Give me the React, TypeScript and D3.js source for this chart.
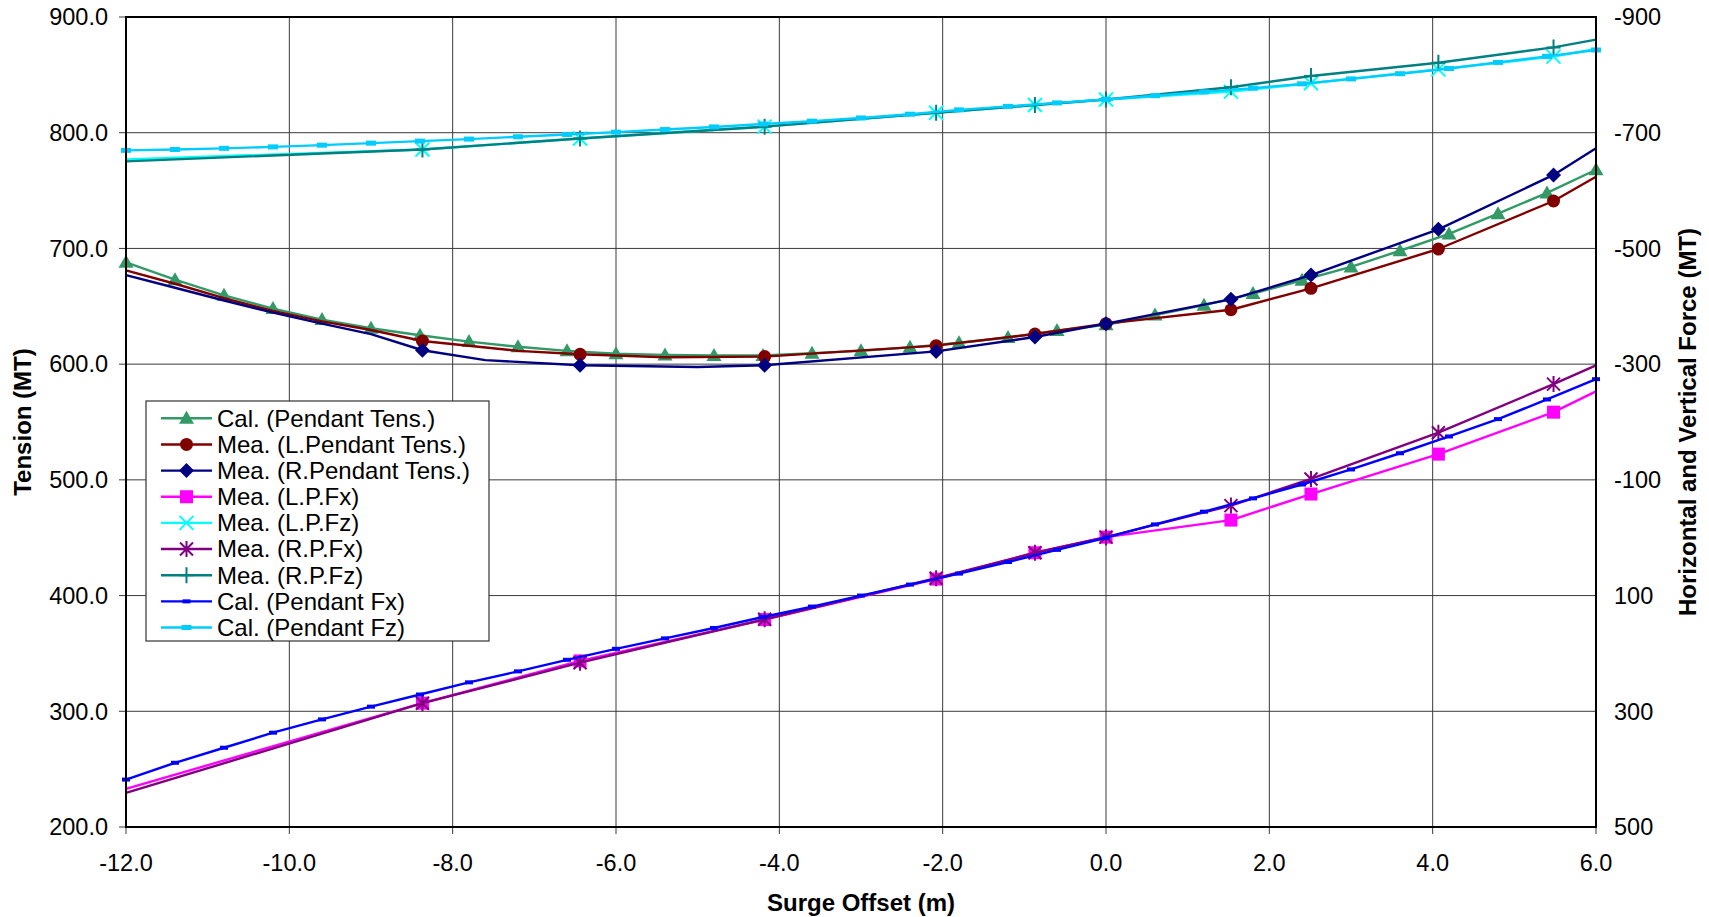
import React from 'react';
import * as d3 from 'd3';

const W = 1709;
const H = 917;
const m = { left: 126, right: 1596, top: 17, bottom: 827 };

const xTicks = [-12, -10, -8, -6, -4, -2, 0, 2, 4, 6];
const yTicks = [200, 300, 400, 500, 600, 700, 800, 900];
const y2Ticks = [-900, -700, -500, -300, -100, 100, 300, 500];

// calculated curves, every 0.6 m
const calX = [-12, -11.4, -10.8, -10.2, -9.6, -9, -8.4, -7.8, -7.2, -6.6, -6, -5.4, -4.8, -4.2, -3.6, -3,
  -2.4, -1.8, -1.2, -0.6, 0, 0.6, 1.2, 1.8, 2.4, 3, 3.6, 4.2, 4.8, 5.4, 6];
const calTens = [688, 673, 659.5, 648, 638.5, 631, 625, 619.5, 615, 611.5, 609, 608, 607.5, 607.5, 609.5, 611.5,
  614.5, 618.5, 623, 629, 634, 642.5, 651, 661, 672.5, 684, 698, 712.5, 730, 748, 768];
const calFx = [418, 389, 363, 337, 314, 292, 271, 250, 231, 211, 192, 174, 156, 137, 119, 100,
  81, 62, 42, 21, 0, -23, -45, -68, -92, -118, -146, -175, -205, -239, -274];
const calFz = [-669.5, -671, -673, -675.5, -678.5, -682, -685.5, -689, -693, -697, -701, -705.5, -710, -715, -720, -725.5,
  -732, -739.5, -745.5, -751.5, -757.5, -764, -770.5, -777, -784.5, -793, -802, -811, -821.5, -832, -843];

// measured points (markers)
const meaX = [-8.37, -6.44, -4.18, -2.08, -0.87, 0, 1.53, 2.51, 4.07, 5.48];
const lTensMea = [620, 608.5, 606.5, 616, 626, 635, 647, 665.5, 699.5, 741];
const rTensMea = [612, 599, 599, 611, 623.5, 635, 656, 677, 716.5, 763.5];
const lFxMea = [286, 213, 141.5, 71.5, 26, -1, -30.5, -75.5, -144.5, -217];
const lFzMea = [-671, -690, -710.5, -734.5, -748, -757.5, -771, -785.5, -809.5, -831.5];
const rFxMea = [286, 216, 141, 70, 26, -1, -55.5, -101.5, -181.5, -265.5];
const rFzMea = [-671, -690, -710.5, -734.5, -748, -757.5, -778.5, -798, -821, -847.5];

// measured traces (line vertices)
const lTensLineX = [-12, -11.4, -10.8, -10.2, -9.6, -9, -8.37, -7.2, -6.44, -5.4, -4.18, -2.08, -0.87, 0, 1.53, 2.51, 4.07, 5.48, 6];
const lTensLineY = [681, 669.5, 657, 646, 637, 629.5, 620, 611.5, 608.5, 606, 606.5, 616, 626, 635, 647, 665.5, 699.5, 741, 762];
const rTensLineX = [-12, -11.4, -10.8, -10.2, -9.6, -9, -8.37, -7.6, -6.44, -5, -4.18, -2.08, -0.87, 0, 1.53, 2.51, 4.07, 5.48, 6];
const rTensLineY = [677, 666, 655, 644.5, 635, 626, 612, 603.5, 599, 597.5, 599, 611, 623.5, 635, 656, 677, 716.5, 763.5, 786.5];
const fLineX = [-12, -8.37, -6.44, -4.18, -2.08, -0.87, 0, 1.53, 2.51, 4.07, 5.48, 6];
const lFxLine = [434, 286, 213, 141.5, 71.5, 26, -1, -30.5, -75.5, -144.5, -217, -253];
const rFxLine = [441, 286, 216, 141, 70, 26, -1, -55.5, -101.5, -181.5, -265.5, -298];
const lFzLine = [-654, -671, -690, -710.5, -734.5, -748, -757.5, -771, -785.5, -809.5, -831.5, -845];
const rFzLine = [-650.5, -671, -690, -710.5, -734.5, -748, -757.5, -778.5, -798, -821, -847.5, -861];

const x = d3.scaleLinear().domain([-12, 6]).range([m.left, m.right]);
const yL = d3.scaleLinear().domain([200, 900]).range([m.bottom, m.top]);
const yR = d3.scaleLinear().domain([500, -900]).range([m.bottom, m.top]);

const series = [
  { name: 'Cal. (Pendant Tens.)', color: '#339966', y: yL, lx: calX, ly: calTens, mx: calX, my: calTens, mk: 'triangle' },
  { name: 'Mea. (L.Pendant Tens.)', color: '#800000', y: yL, lx: lTensLineX, ly: lTensLineY, mx: meaX, my: lTensMea, mk: 'circle' },
  { name: 'Mea. (R.Pendant Tens.)', color: '#000080', y: yL, lx: rTensLineX, ly: rTensLineY, mx: meaX, my: rTensMea, mk: 'diamond' },
  { name: 'Mea. (L.P.Fx)', color: '#FF00FF', y: yR, lx: fLineX, ly: lFxLine, mx: meaX, my: lFxMea, mk: 'square' },
  { name: 'Mea. (L.P.Fz)', color: '#00FFFF', y: yR, lx: fLineX, ly: lFzLine, mx: meaX, my: lFzMea, mk: 'x' },
  { name: 'Mea. (R.P.Fx)', color: '#800080', y: yR, lx: fLineX, ly: rFxLine, mx: meaX, my: rFxMea, mk: 'star' },
  { name: 'Mea. (R.P.Fz)', color: '#008080', y: yR, lx: fLineX, ly: rFzLine, mx: meaX, my: rFzMea, mk: 'plus' },
  { name: 'Cal. (Pendant Fx)', color: '#0000FF', y: yR, lx: calX, ly: calFx, mx: calX, my: calFx, mk: 'dash' },
  { name: 'Cal. (Pendant Fz)', color: '#00CCFF', y: yR, lx: calX, ly: calFz, mx: calX, my: calFz, mk: 'dashL' },
];

const FONT = '"Liberation Sans", Arial, sans-serif';

function Marker({ type, color }: { type: string; color: string }) {
  switch (type) {
    case 'triangle': return <path d="M0,-7.5L7.5,5.5L-7.5,5.5Z" fill={color} />;
    case 'circle': return <circle r={6.5} fill={color} />;
    case 'diamond': return <path d="M0,-7.5L7.5,0L0,7.5L-7.5,0Z" fill={color} />;
    case 'square': return <rect x={-6.5} y={-6.5} width={13} height={13} fill={color} />;
    case 'x': return <path d="M-7,-7L7,7M-7,7L7,-7" stroke={color} strokeWidth={2} fill="none" />;
    case 'star': return <path d="M-6.5,-6.5L6.5,6.5M-6.5,6.5L6.5,-6.5M0,-8L0,8" stroke={color} strokeWidth={2} fill="none" />;
    case 'plus': return <path d="M-7,0L7,0M0,-8L0,8" stroke={color} strokeWidth={2} fill="none" />;
    case 'dash': return <rect x={-4} y={-2} width={8} height={4} fill={color} />;
    case 'dashL': return <rect x={-5} y={-2.5} width={10} height={5} fill={color} />;
    default: return null;
  }
}

export default function App() {
  const line = (s: any) => d3.line<number>().x((_, i) => x(s.lx[i])).y(d => s.y(d))(s.ly) || '';
  const legX = 146, legY = 401, legRow = 26.15;

  return (
    <svg width={W} height={H} style={{ position: 'absolute', left: 0, top: 0, background: '#fff' }} fontFamily={FONT}>
      {/* grid */}
      <g stroke="#3a3a3a" strokeWidth={1}>
        {xTicks.map(t => <line key={'gx' + t} x1={x(t)} x2={x(t)} y1={m.top} y2={m.bottom + 7} />)}
        {yTicks.map(t => <line key={'gy' + t} x1={m.left - 7} x2={m.right} y1={yL(t)} y2={yL(t)} />)}
      </g>

      {/* series */}
      {series.map(s => (
        <g key={s.name}>
          <path d={line(s)} fill="none" stroke={s.color} strokeWidth={2.4} strokeLinejoin="round" />
          {s.mx.map((v, i) => (
            <g key={i} transform={`translate(${x(v)},${s.y(s.my[i])})`}>
              <Marker type={s.mk} color={s.color} />
            </g>
          ))}
        </g>
      ))}

      {/* frame */}
      <rect x={m.left} y={m.top} width={m.right - m.left} height={m.bottom - m.top} fill="none" stroke="#000" strokeWidth={2} />

      {/* tick labels */}
      <g fontSize={23.5} fill="#000">
        {yTicks.map(t => (
          <text key={'ly' + t} x={108} y={yL(t)} dy="0.35em" textAnchor="end">{t.toFixed(1)}</text>
        ))}
        {y2Ticks.map(t => (
          <text key={'ry' + t} x={1614} y={yR(t)} dy="0.35em" textAnchor="start">{t}</text>
        ))}
        {xTicks.map(t => (
          <text key={'bx' + t} x={x(t)} y={870.5} textAnchor="middle">{t.toFixed(1)}</text>
        ))}
      </g>

      {/* axis titles */}
      <g fontSize={24} fontWeight="bold" fill="#000" textAnchor="middle">
        <text x={(m.left + m.right) / 2} y={911}>Surge Offset (m)</text>
        <text transform={`translate(31,${(m.top + m.bottom) / 2}) rotate(-90)`}>Tension (MT)</text>
        <text transform={`translate(1696,${(m.top + m.bottom) / 2}) rotate(-90)`}>Horizontal and Vertical Force (MT)</text>
      </g>

      {/* legend */}
      <g>
        <rect x={legX} y={legY} width={343} height={240} fill="#fff" stroke="#333" strokeWidth={1.2} />
        {series.map((s, i) => {
          const cy = legY + 17.3 + i * legRow;
          return (
            <g key={'lg' + i}>
              <line x1={161} x2={212} y1={cy} y2={cy} stroke={s.color} strokeWidth={2.4} />
              <g transform={`translate(186.5,${cy})`}><Marker type={s.mk} color={s.color} /></g>
              <text x={217} y={cy} dy="0.35em" fontSize={24} fill="#000">{s.name}</text>
            </g>
          );
        })}
      </g>
    </svg>
  );
}
